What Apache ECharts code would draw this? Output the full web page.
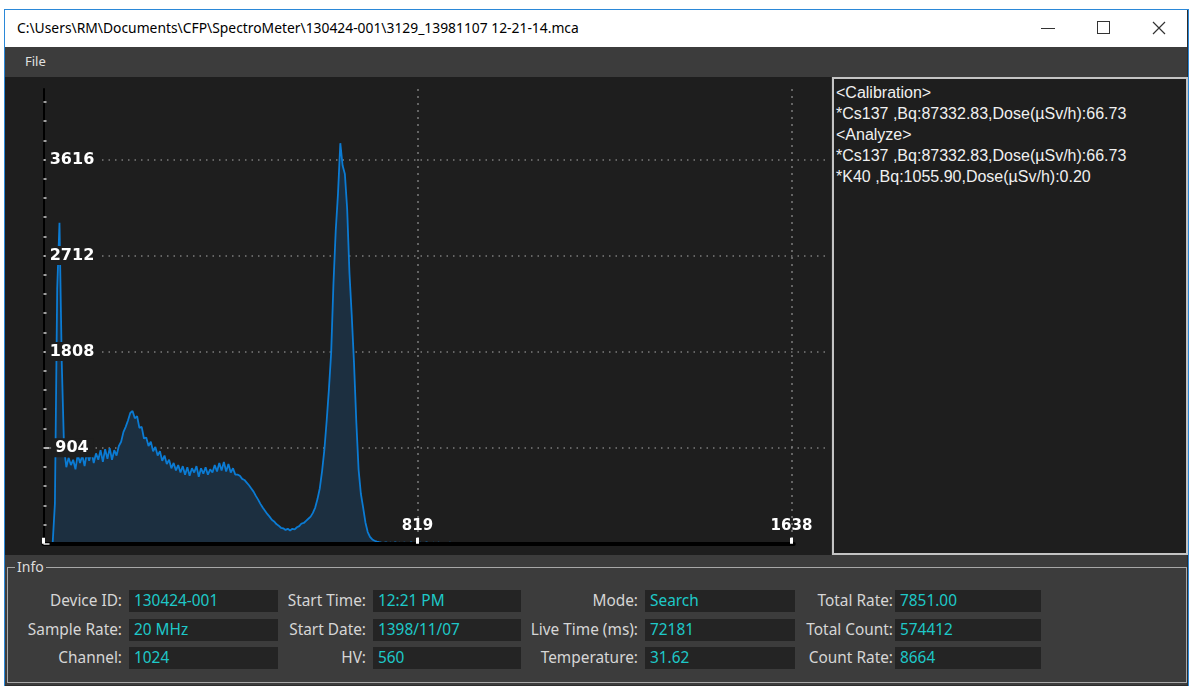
<!DOCTYPE html>
<html>
<head>
<meta charset="utf-8">
<script src="https://cdn.jsdelivr.net/npm/echarts@6/dist/echarts.min.js"></script>
<style>
  html, body { margin: 0; padding: 0; width: 1192px; height: 686px; overflow: hidden; background: #ffffff; }
  body { position: relative; font-family: "Noto Sans", "Open Sans", sans-serif; }
  .abs { position: absolute; }
  #win { left: 4px; top: 9px; width: 1185px; height: 678px; border: 1px solid #2b88d8; box-sizing: border-box; background: #2d2d2d; }
  #titlebar { left: 5px; top: 10px; width: 1182px; height: 37px; background: #ffffff; }
  #title { left: 17px; top: 18px; font-size: 13.85px; color: #000; white-space: nowrap; }
  #menubar { left: 5px; top: 47px; width: 1182px; height: 30px; background: #3c3c3c; }
  #file { left: 25px; top: 52px; font-size: 13px; color: #e0e0e0; }
  #chart { left: 5px; top: 77px; width: 826px; height: 478px; background: #1e1e1e; }
  #report { left: 832px; top: 77px; width: 356px; height: 478px; border: 2px solid #c4c4c4; box-sizing: border-box; background: #1e1e1e;
            font-family: "Liberation Sans", Arial, sans-serif; font-size: 16px; line-height: 21px; color: #f0f0f0; padding: 3px 0 0 2px; white-space: nowrap; }
  #info { left: 5px; top: 555px; width: 1182px; height: 130px; background: #3c3c3c; }
  #group { left: 7px; top: 567px; width: 1180px; height: 116px; border: 1px solid #a8a8a8; box-sizing: border-box; }
  #grouptitle { left: 15px; top: 557px; font-size: 14px; color: #dcdcdc; background: #3c3c3c; padding: 0 2px; line-height: 20px; }
  .lbl { font-size: 15.4px; color: #d6d6d6; text-align: right; white-space: nowrap; line-height: 22px; }
  .val { height: 22px; background: #242424; font-size: 15.4px; color: #1ec8c8; line-height: 22px; padding-left: 5px; box-sizing: border-box; white-space: nowrap; }
  .ctl { position: absolute; }
</style>
</head>
<body>
<div id="win" class="abs"></div>
<div id="titlebar" class="abs"></div>
<div id="title" class="abs">C:\Users\RM\Documents\CFP\SpectroMeter\130424-001\3129_13981107 12-21-14.mca</div>
<div class="ctl" style="left:1041px;top:28px;width:14px;height:1px;background:#333;"></div>
<div class="ctl" style="left:1097px;top:21px;width:11px;height:11px;border:1px solid #333;"></div>
<svg class="ctl" style="left:1152px;top:21px" width="14" height="14"><path d="M1 1 L13 13 M13 1 L1 13" stroke="#333" stroke-width="1.2"/></svg>
<div id="menubar" class="abs"></div>
<div id="file" class="abs">File</div>
<div id="chart" class="abs"></div>
<div id="report" class="abs"></div>
<div id="info" class="abs"></div>
<div id="group" class="abs"></div>
<div id="grouptitle" class="abs">Info</div>
<div id="fields"></div>

<script>
// spectrum: counts per 5 keV bin, starting at 0 keV
let startKeV = 0
let stepKeV = 5
let counts = [
  0, 0, 0, 0, 0, 380, 2400, 3020, 1700, 900,
  720, 810, 740, 790, 700, 840, 760, 830, 730, 860,
  780, 870, 760, 850, 790, 880, 770, 890, 800, 900,
  790, 880, 830, 920, 960, 1050, 1100, 1160, 1230, 1250,
  1180, 1200, 1090, 1100, 990, 1000, 920, 960, 870, 910,
  830, 870, 780, 830, 750, 790, 710, 760, 690, 740,
  670, 730, 650, 720, 640, 710, 670, 730, 630, 710,
  660, 720, 650, 700, 670, 740, 680, 760, 690, 770,
  680, 750, 670, 710, 650, 650, 640, 610, 600, 575,
  550, 520, 490, 450, 415, 375, 340, 310, 280, 255,
  225, 210, 185, 170, 150, 145, 130, 140, 125, 140,
  135, 155, 165, 190, 195, 215, 235, 255, 290, 340,
  420, 520, 680, 880, 1150, 1450, 1800, 2450, 2950, 3300,
  3770, 3560, 3480, 3150, 2550, 2150, 1700, 1150, 700, 470,
  340, 200, 110, 65, 40, 28, 20, 14, 10, 8,
  12, 6, 10, 0, 14, 5, 9, 0, 11, 6,
  0, 13, 4, 8, 0, 10, 0, 7, 12, 0,
  6, 9, 0, 11, 0, 5, 8, 0, 10, 0,
  6, 0, 9
]

// axes
let xMax = 1718
let xTicks = [0, 819, 1638]
let xLabels = [819, 1638]
let xLineEnd = 1643
let yMax = 4280
let yTicks = [0, 904, 1808, 2712, 3616]
let yLabels = [904, 1808, 2712, 3616]
let yMinorSplit = 5

// info panel
let infoLabels = [
  ['Device ID:', 'Sample Rate:', 'Channel:'],
  ['Start Time:', 'Start Date:', 'HV:'],
  ['Mode:', 'Live Time (ms):', 'Temperature:'],
  ['Total Rate:', 'Total Count:', 'Count Rate:']
]
let infoValues = [
  ['130424-001', '20 MHz', '1024'],
  ['12:21 PM', '1398/11/07', '560'],
  ['Search', '72181', '31.62'],
  ['7851.00', '574412', '8664']
]

// report text
let reportLines = [
  '<Calibration>',
  '*Cs137 ,Bq:87332.83,Dose(µSv/h):66.73',
  '<Analyze>',
  '*Cs137 ,Bq:87332.83,Dose(µSv/h):66.73',
  '*K40 ,Bq:1055.90,Dose(µSv/h):0.20'
]

// 文本面板
let report = document.querySelector('#report')
reportLines.forEach(line => {
  let d = document.createElement('div')
  d.textContent = line
  report.appendChild(d)
})

// Info 面板
let colLabelRight = [122, 366, 638, 893]
let colBoxLeft = [129, 373, 645, 895]
let colBoxWidth = [149, 148, 150, 146]
let rowTop = [590, 619, 647]
let fields = document.querySelector('#fields')
for (let c = 0; c < 4; c++) {
  for (let r = 0; r < 3; r++) {
    let l = document.createElement('div')
    l.className = 'abs lbl'
    l.style.left = (colLabelRight[c] - 200) + 'px'
    l.style.width = '200px'
    l.style.top = rowTop[r] + 'px'
    l.textContent = infoLabels[c][r]
    fields.appendChild(l)
    let v = document.createElement('div')
    v.className = 'abs val'
    v.style.left = colBoxLeft[c] + 'px'
    v.style.top = rowTop[r] + 'px'
    v.style.width = colBoxWidth[c] + 'px'
    v.textContent = infoValues[c][r]
    fields.appendChild(v)
  }
}

// 曲线数据
let seriesData = counts.map((v, i) => [startKeV + i * stepKeV, v])
let minorTicks = []
for (let i = 1; i < yTicks.length * yMinorSplit; i++) {
  if (i % yMinorSplit) minorTicks.push(yTicks[1] / yMinorSplit * i)
}
let plain = v => String(v)

let chart = echarts.init(document.querySelector('#chart'))
let gridBox = { left: 38.5, top: 12, bottom: 11.3 }
chart.setOption({
  animation: false,
  backgroundColor: '#1e1e1e',
  grid: [
    Object.assign({ right: 3 }, gridBox),
    Object.assign({ right: 3 + (xMax - xLineEnd) / xMax * 784.5 }, gridBox)
  ],
  xAxis: [
    {
      type: 'value', gridIndex: 0, min: 0, max: xMax, z: 5,
      axisLine: { show: false },
      axisTick: { inside: true, length: 6, customValues: xTicks, lineStyle: { color: '#ffffff', width: 3 } },
      axisLabel: {
        inside: true, margin: 10, customValues: xLabels, formatter: plain,
        color: '#ffffff', fontFamily: 'DejaVu Sans', fontWeight: 'bold', fontSize: 15
      },
      splitLine: { show: false }
    },
    {
      type: 'value', gridIndex: 0, min: 0, max: xMax, position: 'top',
      axisLine: { show: false }, axisLabel: { show: false },
      axisTick: { show: false, customValues: xLabels },
      splitLine: { show: true, lineStyle: { color: '#7c7c7c', width: 1.5, type: [2, 5] } }
    },
    {
      type: 'value', gridIndex: 1, min: 0, max: xLineEnd, z: 4,
      axisLine: { show: true, onZero: false, lineStyle: { color: '#000000', width: 4 } },
      axisTick: { show: false }, axisLabel: { show: false }, splitLine: { show: false }
    }
  ],
  yAxis: [
    {
      type: 'value', gridIndex: 0, min: 0, max: yMax,
      axisLine: { show: false },
      axisTick: { show: false, customValues: yLabels }, axisLabel: { show: false },
      splitLine: { show: true, lineStyle: { color: '#7c7c7c', width: 1.5, type: [1.5, 5] } }
    },
    {
      type: 'value', gridIndex: 0, min: 0, max: yMax, position: 'left', z: 5,
      axisLine: { show: true, lineStyle: { color: '#000000', width: 2 } },
      axisTick: { inside: true, length: 6, customValues: yTicks, lineStyle: { color: '#e8e8e8', width: 1.5 } },
      axisLabel: {
        inside: true, margin: 29, align: 'center', customValues: yLabels, formatter: plain,
        color: '#ffffff', fontFamily: 'DejaVu Sans', fontWeight: 'bold', fontSize: 16,
        backgroundColor: '#1e1e1e', padding: [0, 5, 3, 4]
      },
      splitLine: { show: false }
    },
    {
      type: 'value', gridIndex: 0, min: 0, max: yMax, position: 'left', z: 5,
      axisLine: { show: false },
      axisTick: { inside: true, length: 3, customValues: minorTicks, lineStyle: { color: '#d0d0d0', width: 1.5 } },
      axisLabel: { show: false }, splitLine: { show: false }
    },
    {
      type: 'value', gridIndex: 1, min: 0, max: yMax, show: false
    }
  ],
  series: [
    {
      type: 'line',
      xAxisIndex: 0,
      yAxisIndex: 0,
      data: seriesData,
      showSymbol: false,
      lineStyle: { color: '#0b7bd3', width: 1.8 },
      areaStyle: { color: '#1c2f40', opacity: 1 }
    }
  ]
})
</script>
</body>
</html>
